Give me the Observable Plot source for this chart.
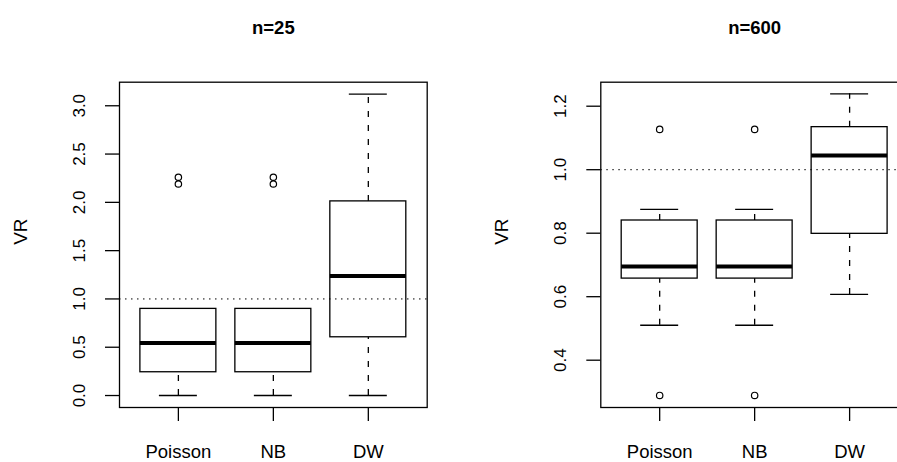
<!DOCTYPE html>
<html>
<head>
<meta charset="utf-8">
<script src="https://cdn.jsdelivr.net/npm/d3@7"></script>
<script src="https://cdn.jsdelivr.net/npm/@observablehq/plot@0.6"></script>
<style>
  html, body { margin: 0; padding: 0; background: #fff; overflow: hidden; }
  #wrap { position: relative; width: 897px; height: 462px; overflow: hidden; }
  #wrap > div { position: absolute; top: 0; }
  svg { display: block; max-width: none !important; height: 462px !important; }
</style>
</head>
<body>
<div id="wrap"><div id="p1" style="left:0;width:448px"></div><div id="p2" style="left:448px;width:482px"></div></div>
<script>
// ---- data ----
const categories = ["Poisson", "NB", "DW"];

// panel n=25
const titleA = "n=25";
const loA  = [0.0, 0.0, 0.0];
const q1A  = [0.241, 0.241, 0.603];
const medA = [0.545, 0.545, 1.238];
const q3A  = [0.897, 0.897, 2.01];
const hiA  = [0.897, 0.897, 3.12];
const outCatA = ["Poisson", "Poisson", "NB", "NB"];
const outValA = [2.19, 2.26, 2.19, 2.26];
const yTicksA = [0, 0.5, 1.0, 1.5, 2.0, 2.5, 3.0];
const yDomainA = [-0.124, 3.244];

// panel n=600
const titleB = "n=600";
const loB  = [0.510, 0.510, 0.607];
const q1B  = [0.657, 0.657, 0.798];
const medB = [0.695, 0.695, 1.045];
const q3B  = [0.840, 0.840, 1.134];
const hiB  = [0.875, 0.875, 1.239];
const outCatB = ["Poisson", "Poisson", "NB", "NB"];
const outValB = [1.127, 0.289, 1.127, 0.289];
const yTicksB = [0.4, 0.6, 0.8, 1.0, 1.2];
const yDomainB = [0.251, 1.2756];

const refLine = [1.0];
const yLabel = "VR";

const FONT = "'Liberation Sans', Arial, Helvetica, sans-serif";

function panel({title, lo, q1, med, q3, hi, outCat, outVal, yTicks, yDomain, width, marginLeft, marginRight}) {
  const stats = categories.map((c, i) => ({cat: c, pos: i + 1, lo: lo[i], q1: q1[i], med: med[i], q3: q3[i], hi: hi[i]}));
  const outliers = outCat.map((c, i) => ({pos: categories.indexOf(c) + 1, v: outVal[i]}));
  const half = 0.4, cap = 0.2;
  const dash = "6,8";
  return Plot.plot({
    width, height: 462,
    marginLeft, marginRight, marginTop: 81.7, marginBottom: 55,
    style: {fontFamily: FONT, fontSize: "17px", color: "black", background: "white", overflow: "visible"},
    x: {domain: [0.38, 3.62]},
    y: {domain: yDomain},
    marks: [
      // whiskers
      Plot.ruleX(stats, {x: "pos", y1: "q3", y2: "hi", stroke: "black", strokeWidth: 1.3, strokeDasharray: dash}),
      Plot.ruleX(stats, {x: "pos", y1: "lo", y2: "q1", stroke: "black", strokeWidth: 1.3, strokeDasharray: dash}),
      Plot.ruleY(stats, {y: "hi", x1: d => d.pos - cap, x2: d => d.pos + cap, stroke: "black", strokeWidth: 1.3}),
      Plot.ruleY(stats, {y: "lo", x1: d => d.pos - cap, x2: d => d.pos + cap, stroke: "black", strokeWidth: 1.3}),
      // boxes
      Plot.rect(stats, {x1: d => d.pos - half, x2: d => d.pos + half, y1: "q1", y2: "q3", fill: "white", stroke: "black", strokeWidth: 1.3}),
      Plot.ruleY(stats, {y: "med", x1: d => d.pos - half, x2: d => d.pos + half, stroke: "black", strokeWidth: 4}),
      // outliers
      Plot.dot(outliers, {x: "pos", y: "v", r: 3.2, stroke: "black", strokeWidth: 1.2, fill: "none"}),
      // reference line
      Plot.ruleY(refLine, {stroke: "black", strokeWidth: 1, strokeDasharray: "1.5,4.5"}),
      Plot.frame({stroke: "black", strokeWidth: 1.3}),
      Plot.axisY({ticks: yTicks, tickFormat: d3.format(".1f"), tickRotate: -90, tickSize: 14, tickPadding: 21, fontSize: 17, label: null, strokeWidth: 1.3}),
      Plot.axisX({ticks: [1, 2, 3], tickFormat: i => categories[i - 1], tickSize: 14, tickPadding: 23.6, fontSize: 18.5, label: null, strokeWidth: 1.3}),
      Plot.text([yLabel], {frameAnchor: "left", dx: -98.5, rotate: -90, fontSize: 19, fill: "black"}),
      Plot.text([title], {frameAnchor: "top", lineAnchor: "top", dy: -61.5, fontSize: 18.5, fontWeight: "bold", fill: "black"})
    ]
  });
}

document.getElementById("p1").appendChild(panel({
  title: titleA, lo: loA, q1: q1A, med: medA, q3: q3A, hi: hiA, outCat: outCatA, outVal: outValA,
  yTicks: yTicksA, yDomain: yDomainA, width: 448, marginLeft: 119, marginRight: 21.3
}));
document.getElementById("p2").appendChild(panel({
  title: titleB, lo: loB, q1: q1B, med: medB, q3: q3B, hi: hiB, outCat: outCatB, outVal: outValB,
  yTicks: yTicksB, yDomain: yDomainB, width: 481.3, marginLeft: 152.3, marginRight: 21.3
}));
</script>
</body>
</html>
